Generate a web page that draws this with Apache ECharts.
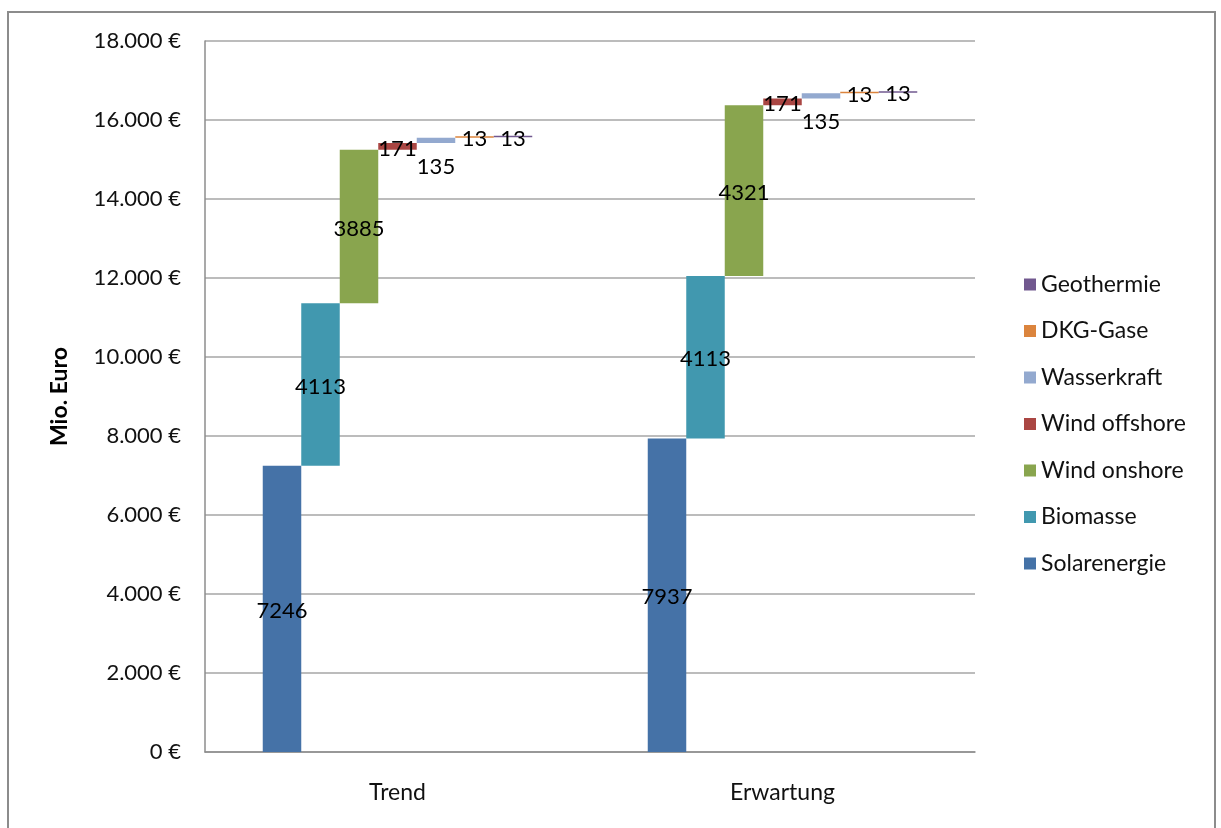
<!DOCTYPE html>
<html>
<head>
<meta charset="utf-8">
<script src="https://cdn.jsdelivr.net/npm/echarts@6/dist/echarts.min.js"></script>
<style>
  html, body { margin: 0; padding: 0; background: #fff; }
  #chart { width: 1221px; height: 828px; }
</style>
</head>
<body>
<div id="chart"></div>
<script>
// Scenario categories
const categories = ['Trend', 'Erwartung'];

// Contribution of each source (Mio. Euro), in stacking order
const sourceNames = ['Solarenergie', 'Biomasse', 'Wind onshore', 'Wind offshore', 'Wasserkraft', 'DKG-Gase', 'Geothermie'];
const solarenergie = [7246, 7937];
const biomasse     = [4113, 4113];
const windOnshore  = [3885, 4321];
const windOffshore = [171, 171];
const wasserkraft  = [135, 135];
const dkgGase      = [13, 13];
const geothermie   = [13, 13];

// Y axis ticks
const yMin = 0, yMax = 18000, yStep = 2000;

const sourceValues = [solarenergie, biomasse, windOnshore, windOffshore, wasserkraft, dkgGase, geothermie];
const colors = ['#4572A7', '#4198AF', '#89A54E', '#AA4643', '#93A9CF', '#DB843D', '#71588F'];

const fontFamily = 'Lato, "Open Sans", sans-serif';

function euro(v) {
  return String(v).replace(/\B(?=(\d{3})+(?!\d))/g, '.') + ' €';
}

// Each source floats on top of the running total of the previous ones
const series = [];
const running = categories.map(() => 0);
sourceValues.forEach((vals, i) => {
  const stack = 's' + i;
  series.push({
    type: 'bar',
    stack: stack,
    data: running.slice(),
    itemStyle: { color: 'transparent' },
    emphasis: { disabled: true },
    silent: true,
    barGap: '0%',
    barCategoryGap: '30%'
  });
  series.push({
    name: sourceNames[i],
    type: 'bar',
    stack: stack,
    data: vals.slice(),
    barMinHeight: 1.5,
    barGap: '0%',
    barCategoryGap: '30%',
    itemStyle: { color: colors[i] },
    label: {
      show: true,
      position: 'inside',
      offset: sourceNames[i] === 'Wasserkraft' ? [0, 26] : [0, 2],
      color: '#000',
      fontFamily: fontFamily,
      fontSize: 22
    }
  });
  vals.forEach((v, k) => { running[k] += v; });
});

const chart = echarts.init(document.getElementById('chart'), null, { renderer: 'canvas' });
chart.setOption({
  animation: false,
  backgroundColor: '#fff',
  textStyle: { fontFamily: fontFamily },
  graphic: [{
    type: 'rect',
    shape: { x: 8, y: 12, width: 1207, height: 840 },
    style: { fill: 'none', stroke: '#8c8c8c', lineWidth: 2 },
    silent: true
  }],
  grid: { left: 205, right: 246, top: 41, bottom: 76 },
  legend: {
    orient: 'vertical',
    left: 1019,
    top: 268,
    icon: 'rect',
    itemWidth: 12,
    itemHeight: 12,
    itemGap: 23.5,
    data: sourceNames.slice().reverse(),
    textStyle: { fontFamily: fontFamily, fontSize: 23, color: '#111', lineHeight: 23 }
  },
  xAxis: {
    type: 'category',
    data: categories,
    axisLine: { lineStyle: { color: '#8c8c8c', width: 1.5 } },
    axisTick: { show: false },
    axisLabel: { color: '#111', fontSize: 23, fontFamily: fontFamily, margin: 29 }
  },
  yAxis: {
    type: 'value',
    min: yMin,
    max: yMax,
    interval: yStep,
    name: 'Mio. Euro',
    nameLocation: 'middle',
    nameGap: 134,
    nameRotate: 90,
    nameTextStyle: { fontSize: 23, fontWeight: 'bold', color: '#000', fontFamily: fontFamily },
    axisLine: { show: true, lineStyle: { color: '#8c8c8c', width: 1.5 } },
    axisTick: { show: false },
    splitLine: { lineStyle: { color: '#a6a6a6', width: 1.5 } },
    axisLabel: { color: '#111', fontSize: 22, fontFamily: fontFamily, margin: 24, formatter: euro }
  },
  series: series
});
</script>
</body>
</html>
